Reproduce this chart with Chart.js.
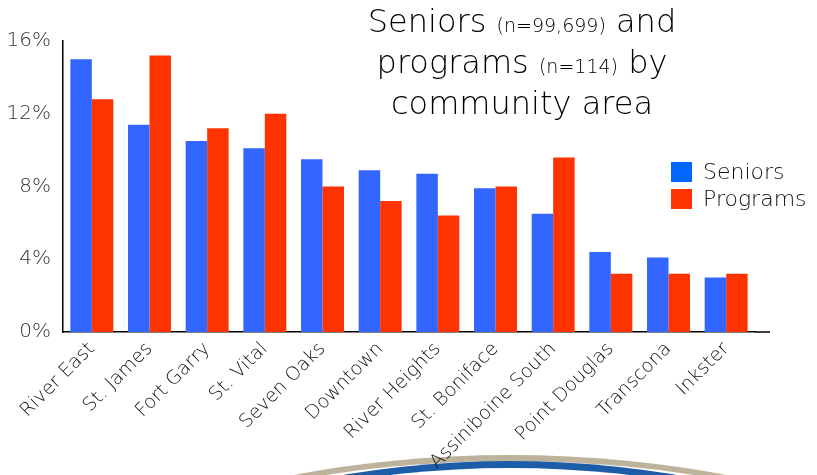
<!DOCTYPE html>
<html>
<head>
<meta charset="utf-8">
<script src="https://cdn.jsdelivr.net/npm/chart.js@4.4.0/dist/chart.umd.min.js"></script>
<style>
  html, body { margin: 0; padding: 0; background: #fff; overflow: hidden; }
  #wrap { position: relative; width: 817px; height: 475px; overflow: hidden; }
  #canvas { position: absolute; left: 0; top: 0; }
  #title {
    position: absolute; left: 312px; top: 3px; width: 420px;
    text-align: center; font-family: "DejaVu Sans", sans-serif; font-weight: 200;
    font-size: 32px; line-height: 37px; color: #000;
  }
  #title small { font-size: 19px; }
  #legend {
    position: absolute; left: 671px; top: 160px;
    font-family: "DejaVu Sans", sans-serif; font-weight: 200; font-size: 22px; color: #111;
  }
  #legend div { height: 27px; line-height: 24px; white-space: nowrap; }
  #legend span.box { display: inline-block; width: 21px; height: 20px; vertical-align: -3px; margin-right: 11px; }
  .arc {
    position: absolute; left: -90px; top: 455px; width: 1200px; height: 590px;
    border-radius: 50%; border-top: 6px solid #bdb39c;
  }
  .arc2 {
    position: absolute; left: -40px; top: 461px; width: 1100px; height: 590px;
    border-radius: 50%; border-top: 7px solid #1d5ca6;
  }
</style>
</head>
<body>
<div id="wrap">
  <div class="arc"></div>
  <div class="arc2"></div>
  <canvas id="canvas" width="817" height="475"></canvas>
  <div id="title">Seniors <small>(n=99,699)</small> and<br>programs <small>(n=114)</small> by<br>community area</div>
  <div id="legend"></div>
</div>
<script>
var areas = ['River East', 'St. James', 'Fort Garry', 'St. Vital', 'Seven Oaks', 'Downtown',
  'River Heights', 'St. Boniface', 'Assiniboine South', 'Point Douglas', 'Transcona', 'Inkster'];
var seniors = [15.0, 11.4, 10.5, 10.1, 9.5, 8.9, 8.7, 7.9, 6.5, 4.4, 4.1, 3.0];
var programs = [12.8, 15.2, 11.2, 12.0, 8.0, 7.2, 6.4, 8.0, 9.6, 3.2, 3.2, 3.2];
var yTicks = [0, 4, 8, 12, 16];

var seriesNames = ['Seniors', 'Programs'];
var barColors = ['#3366ff', '#ff3300'];
var legendColors = ['#0066ff', '#ff3300'];

// legend drawn as html over the plot, like the original slide
var legendEl = document.getElementById('legend');
seriesNames.forEach(function (name, i) {
    var row = document.createElement('div');
    row.innerHTML = '<span class="box" style="background:' + legendColors[i] + '"></span>' + name;
    legendEl.appendChild(row);
});

// the slide's x axis line runs a little past the last bar
var axisTail = {
    id: 'axisTail',
    afterDraw: function (chart) {
        var a = chart.chartArea, c = chart.ctx;
        c.save();
        c.strokeStyle = '#000';
        c.lineWidth = 1.5;
        c.beginPath();
        c.moveTo(a.right, a.bottom);
        c.lineTo(a.right + 15, a.bottom);
        c.stroke();
        c.restore();
    }
};

window.onload = function () {
    var ctx = document.getElementById('canvas').getContext('2d');
    window.myBar = new Chart(ctx, {
        type: 'bar',
        data: {
            labels: areas,
            datasets: [{
                label: seriesNames[0],
                backgroundColor: barColors[0],
                borderWidth: 0,
                data: seniors,
            }, {
                label: seriesNames[1],
                backgroundColor: barColors[1],
                borderWidth: 0,
                data: programs,
            }]
        },
        plugins: [axisTail],
        options: {
            responsive: false,
            animation: false,
            layout: {
                padding: { left: 0, top: 41, right: 62, bottom: 0 }
            },
            plugins: {
                legend: { display: false },
                title: { display: false },
                tooltip: { enabled: false }
            },
            datasets: {
                bar: { categoryPercentage: 0.745, barPercentage: 1.0 }
            },
            scales: {
                x: {
                    grid: { display: false, drawTicks: false },
                    border: { color: '#000', width: 1.5 },
                    ticks: {
                        color: '#111',
                        font: { family: 'DejaVu Sans', size: 19, weight: 200 },
                        minRotation: 45,
                        maxRotation: 45,
                        autoSkip: false,
                        padding: 6
                    },
                    afterFit: function (scale) { scale.height = 143; }
                },
                y: {
                    min: 0,
                    max: 16,
                    afterBuildTicks: function (scale) {
                        scale.ticks = yTicks.map(function (v) { return { value: v }; });
                    },
                    grid: { display: false, drawTicks: false },
                    border: { color: '#000', width: 1.5 },
                    ticks: {
                        color: '#333',
                        font: { family: 'DejaVu Sans', size: 20, weight: 200 },
                        padding: 12,
                        callback: function (v) { return v + '%'; }
                    },
                    afterFit: function (scale) { scale.width = 63; }
                }
            }
        }
    });
};
</script>
</body>
</html>
